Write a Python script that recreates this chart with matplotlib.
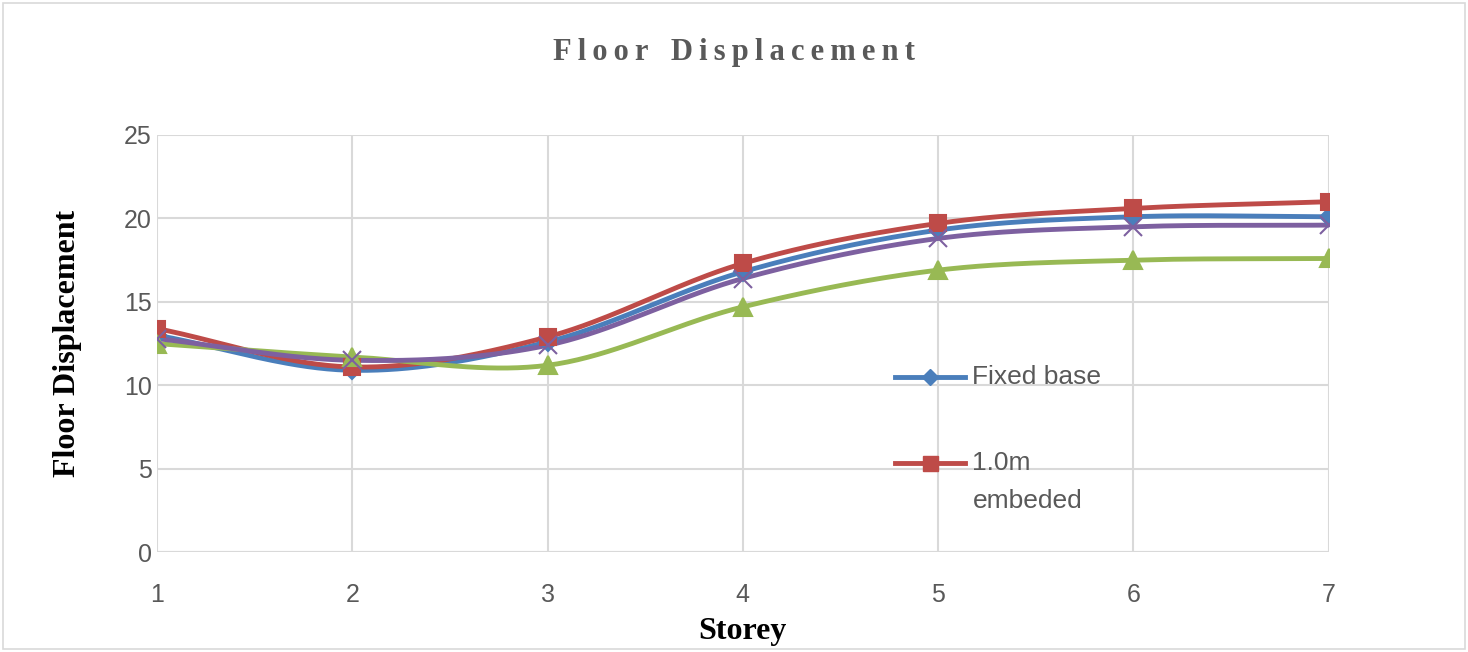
import numpy as np
import matplotlib
matplotlib.use('Agg')
import matplotlib.pyplot as plt

# data
storey = [1, 2, 3, 4, 5, 6, 7]
fixed_base = [13.0, 10.9, 12.6, 16.8, 19.3, 20.1, 20.1]
embed_1m = [13.4, 11.1, 12.9, 17.3, 19.7, 20.6, 21.0]
green_series = [12.5, 11.7, 11.2, 14.7, 16.9, 17.5, 17.6]
purple_series = [12.8, 11.5, 12.4, 16.4, 18.8, 19.5, 19.6]
yticks = [0, 5, 10, 15, 20, 25]
legend_labels = ['Fixed base', '1.0m', 'embeded']


def smooth(x, y, n=40):
    # catmull-rom curve through the points, like excel's smoothed line
    x = np.asarray(x, float)
    y = np.asarray(y, float)
    px = np.concatenate([[2 * x[0] - x[1]], x, [2 * x[-1] - x[-2]]])
    py = np.concatenate([[2 * y[0] - y[1]], y, [2 * y[-1] - y[-2]]])
    xs, ys = [], []
    t = np.linspace(0, 1, n)
    for i in range(1, len(px) - 2):
        for p, out in ((px, xs), (py, ys)):
            p0, p1, p2, p3 = p[i - 1], p[i], p[i + 1], p[i + 2]
            out.extend(0.5 * (2 * p1 + (-p0 + p2) * t
                              + (2 * p0 - 5 * p1 + 4 * p2 - p3) * t ** 2
                              + (-p0 + 3 * p1 - 3 * p2 + p3) * t ** 3))
    return xs, ys


fig = plt.figure(figsize=(14.68, 6.52), dpi=100)
ax = fig.add_axes([0.107, 0.153, 0.798, 0.64])

series = [
    (fixed_base, '#4a7ebb', 'D', 9),
    (embed_1m, '#be4b48', 's', 12),
    (green_series, '#98b954', '^', 13),
    (purple_series, '#7d60a0', 'x', 13),
]
for vals, col, mk, ms in series:
    sx, sy = smooth(storey, vals)
    ax.plot(sx, sy, color=col, lw=3.5, zorder=3)
    ax.plot(storey, vals, ls='none', marker=mk, color=col, ms=ms,
            mew=1.5, zorder=4)

ax.set_xlim(1, 7)
ax.set_ylim(0, 25)
ax.set_xticks(storey)
ax.set_yticks(yticks)
ax.grid(True, color='#d9d9d9', lw=1.5)
ax.set_axisbelow(True)
for s in ax.spines.values():
    s.set_visible(False)
ax.axhline(0, color='#d9d9d9', lw=1.5, zorder=1)
ax.tick_params(length=0, labelsize=18, labelcolor='#595959')
ax.tick_params(axis='x', pad=22)
ax.tick_params(axis='y', pad=4)
for lbl in ax.get_xticklabels() + ax.get_yticklabels():
    lbl.set_family('Liberation Sans')

ax.set_xlabel('Storey', family='Liberation Serif', fontweight='bold',
              fontsize=23)
ax.xaxis.set_label_coords(0.5, -0.155)
ax.set_ylabel('Floor Displacement', family='Liberation Serif',
              fontweight='bold', fontsize=23)
ax.yaxis.set_label_coords(-0.064, 0.5)
title = '\u2009'.join('Floor') + '   ' + '\u2009'.join('Displacement')
fig.text(0.5, 0.92, title, ha='center', va='center',
         family=['Liberation Serif', 'DejaVu Serif'], fontweight='bold',
         fontsize=22, color='#595959')

# legend drawn the way excel left it: only two entries, marker on first line
lx0, lx1, tx = 0.630, 0.690, 0.696
for (vals, col, mk, ms), y, lab in zip(series[:2], [0.42, 0.213], legend_labels[:2]):
    ax.plot([lx0, lx1], [y, y], color=col, lw=3.5, transform=ax.transAxes,
            clip_on=False, zorder=5)
    ax.plot([(lx0 + lx1) / 2], [y], marker=mk, color=col, ms=ms * 0.9,
            transform=ax.transAxes, clip_on=False, zorder=5)
    ax.text(tx, y, lab, transform=ax.transAxes, va='center', ha='left',
            fontsize=19, color='#595959', family='Liberation Sans')
ax.text(tx, 0.123, legend_labels[2], transform=ax.transAxes, va='center',
        ha='left', fontsize=19, color='#595959', family='Liberation Sans')

fig.patches.append(plt.Rectangle((0.002, 0.004), 0.996, 0.992,
                                 transform=fig.transFigure, fill=False,
                                 edgecolor='#d9d9d9', lw=1.2))

fig.savefig('out.png', dpi=100)
